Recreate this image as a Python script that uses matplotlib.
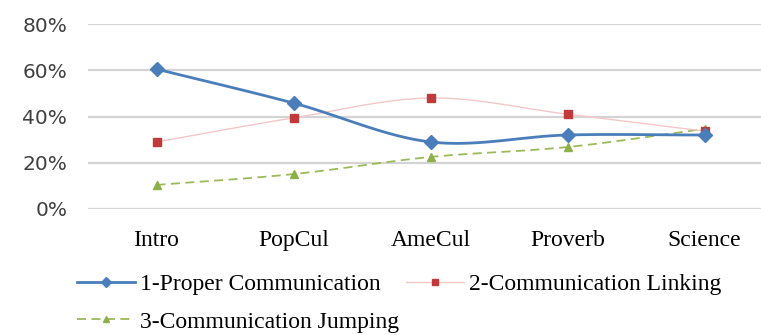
import numpy as np
import matplotlib
matplotlib.use("Agg")
import matplotlib.pyplot as plt
from matplotlib.lines import Line2D

categories = ["Intro", "PopCul", "AmeCul", "Proverb", "Science"]
proper = [0.605, 0.458, 0.29, 0.32, 0.32]
linking = [0.29, 0.394, 0.48, 0.41, 0.337]
jumping = [0.104, 0.151, 0.225, 0.268, 0.346]
labels = ["1-Proper Communication", "2-Communication Linking", "3-Communication Jumping"]
yticks = [0, 0.2, 0.4, 0.6, 0.8]


def smooth(xs, ys, n=30, tension=0.5):
    # Catmull-Rom style smoothing like Excel's "smoothed line"
    xs = np.asarray(xs, float); ys = np.asarray(ys, float)
    px = np.concatenate([[2 * xs[0] - xs[1]], xs, [2 * xs[-1] - xs[-2]]])
    py = np.concatenate([[2 * ys[0] - ys[1]], ys, [2 * ys[-1] - ys[-2]]])
    ox, oy = [], []
    for i in range(1, len(px) - 2):
        p0, p1, p2, p3 = [np.array([px[j], py[j]]) for j in (i - 1, i, i + 1, i + 2)]
        c1 = p1 + (p2 - p0) * tension / 3
        c2 = p2 - (p3 - p1) * tension / 3
        t = np.linspace(0, 1, n)[:, None]
        b = ((1 - t) ** 3) * p1 + 3 * ((1 - t) ** 2) * t * c1 + 3 * (1 - t) * t ** 2 * c2 + t ** 3 * p2
        ox.extend(b[:, 0]); oy.extend(b[:, 1])
    return np.array(ox), np.array(oy)


fig = plt.figure(figsize=(7.61, 3.35), dpi=100)
ax = fig.add_axes([88 / 761, 1 - 209 / 335, 1 - 88 / 761, (209 - 24) / 335])
x = np.arange(len(categories))

series = [
    (proper, dict(color="#4a7ebb", lw=2.0, ls="-"), dict(marker="D", ms=7, color="#4a7ebb")),
    (linking, dict(color="#f4c7c7", lw=1.0, ls="-"), dict(marker="s", ms=6, color="#c0393b")),
    (jumping, dict(color="#9bbb59", lw=1.3, ls=(0, (5, 3))), dict(marker="^", ms=6, color="#8db04a")),
]
handles = []
for vals, lkw, mkw in reversed(series):
    sx, sy = smooth(x, vals)
    ax.plot(sx, sy, zorder=3, **lkw)
    ax.plot(x, vals, ls="none", zorder=4, **mkw)
for (vals, lkw, mkw), lab in zip(series, labels):
    handles.append(Line2D([0], [0], label=lab, marker=mkw["marker"], ms=mkw["ms"] * 0.75,
                          markerfacecolor=mkw["color"], markeredgecolor=mkw["color"], **lkw))

ax.set_xlim(-0.5, 4.5 - 12 / 137)
ax.set_ylim(0, 0.8)
ax.set_yticks(yticks)
ax.set_yticklabels([f"{int(v*100)}%" for v in yticks], fontsize=14.5, color="#404040",
                   family="DejaVu Sans")
ax.set_xticks(x)
ax.set_xticklabels(categories, fontsize=17, family="Liberation Serif", color="#000000")
ax.tick_params(length=0)
ax.tick_params(axis="x", pad=15)
ax.tick_params(axis="y", pad=15)
ax.grid(axis="y", color="#d4d4d4", lw=1.6)
for s in ax.spines.values():
    s.set_visible(False)
ax.set_axisbelow(True)

leg = fig.legend([handles[0], handles[2], handles[1]],
                 [labels[0], labels[2], labels[1]], ncol=2, frameon=False,
                 loc="upper left", bbox_to_anchor=(68 / 761, 1 - 264 / 335),
                 prop=dict(family="Liberation Serif", size=17), handlelength=2.45,
                 columnspacing=0.3, labelspacing=0.68, handletextpad=0.2,
                 borderaxespad=0)

fig.savefig("out.png", dpi=100)
